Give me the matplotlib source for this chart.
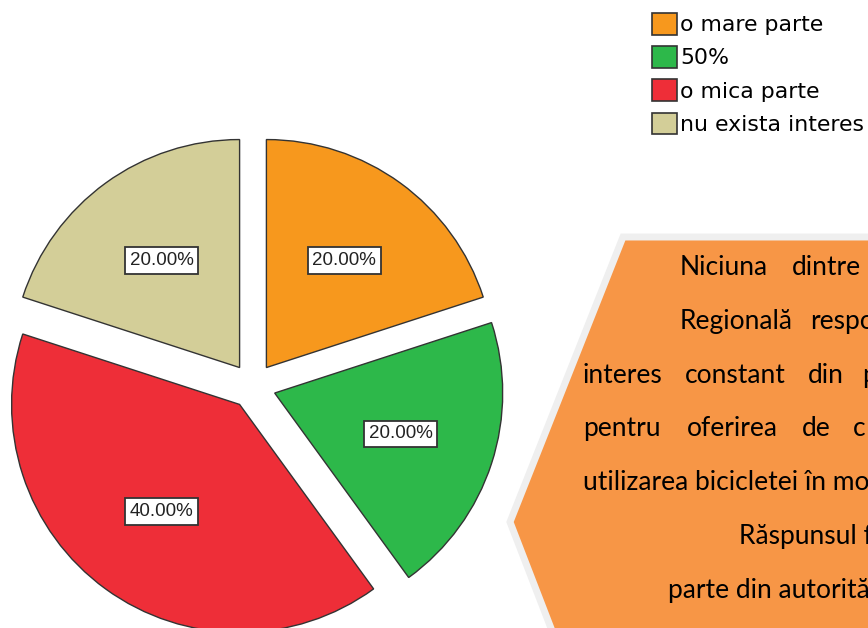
import matplotlib
matplotlib.use("Agg")
import matplotlib.pyplot as plt
from matplotlib.patches import Polygon, Patch

# --- date ---
categories = ["o mare parte", "50%", "o mica parte", "nu exista interes"]
shares = [20.0, 20.0, 40.0, 20.0]
colors = ["#F7981D", "#2DB84A", "#EE2E38", "#D3CE98"]

callout_lines = [
    ["Niciuna", "dintre"],
    ["Regională", "respo"],
    ["interes", "constant", "din", "p"],
    ["pentru", "oferirea", "de", "c"],
    ["utilizarea bicicletei în mo"],
    ["Răspunsul f"],
    ["parte din autorită"],
]
# x de start al fiecarui cuvant (pixeli), textul e aliniat justify
word_x = [
    [680, 792],
    [680, 810],
    [583, 685, 808, 862],
    [583, 687, 802, 853],
    [583],
    [739],
    [668],
]

W, H = 868, 628
fig = plt.figure(figsize=(W / 100, H / 100), dpi=100)

# --- pie ---
cx, cy, R, lim = 253, H - 386, 228, 1.3
half = R * lim
ax = fig.add_axes([(cx - half) / W, (cy - half) / H, 2 * half / W, 2 * half / H])
wedges, texts, autotexts = ax.pie(
    shares, colors=colors, startangle=90, counterclock=False,
    explode=[0.1] * len(shares), autopct="%.2f%%", pctdistance=0.58,
    wedgeprops=dict(edgecolor="#333333", linewidth=1.0),
    textprops=dict(fontsize=13.5, family="Liberation Sans", color="#222222"),
)
for t in autotexts:
    t.set_bbox(dict(boxstyle="square,pad=0.25", facecolor="white",
                    edgecolor="#333333", linewidth=1.3))
ax.set_xlim(-lim, lim)
ax.set_ylim(-lim, lim)
ax.set_aspect("equal")
ax.axis("off")

# --- legenda ---
handles = [Patch(facecolor=c, edgecolor="#333333", linewidth=1.2) for c in colors]
fig.legend(handles, categories, loc="upper left",
           bbox_to_anchor=(652 / W, 1 - 13 / H), frameon=False,
           prop=dict(family="DejaVu Sans", size=15.8),
           handlelength=1.14, handleheight=1.14, handletextpad=0.15,
           labelspacing=0.5, borderpad=0, borderaxespad=0)

# --- caseta portocalie ---
ov = fig.add_axes([0, 0, 1, 1], zorder=-1)
ov.set_xlim(0, W)
ov.set_ylim(H, 0)
ov.axis("off")
shape = Polygon([(623, 237), (900, 237), (900, 680), (571, 680), (510, 522)],
                closed=True, facecolor="#F79646", edgecolor="#EFEFEF",
                linewidth=5, joinstyle="miter")
ov.add_patch(shape)

for i, (words, xs) in enumerate(zip(callout_lines, word_x)):
    y = 275 + 53.8 * i
    for w, x in zip(words, xs):
        ov.text(x, y, w, fontsize=19, family="Lato", color="black",
                va="baseline", ha="left")

fig.savefig("out.png", dpi=100)
